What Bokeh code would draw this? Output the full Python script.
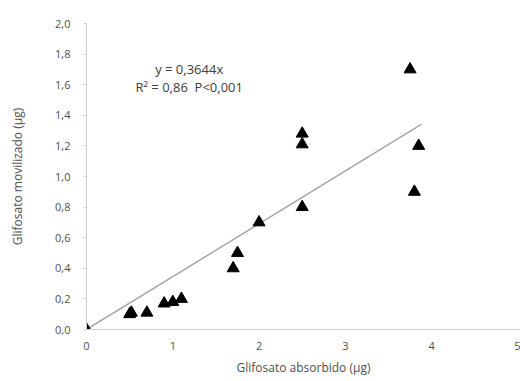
from bokeh.plotting import figure
from bokeh.models import Range1d, FixedTicker, Label
from bokeh.embed import file_html
from bokeh.resources import INLINE

# Data
absorbido = [0.0, 0.5, 0.52, 0.7, 0.9, 1.0, 1.1, 1.7, 1.75, 2.0, 2.5, 2.5, 2.5, 3.75, 3.8, 3.85]
movilizado = [0.0, 0.10, 0.11, 0.11, 0.17, 0.18, 0.20, 0.40, 0.50, 0.70, 0.80, 1.21, 1.28, 1.70, 0.90, 1.20]
trend_x = [0.0, 3.88]
trend_y = [0.0, 1.34]
x_ticks = [0, 1, 2, 3, 4, 5]
x_tick_labels = ["0", "1", "2", "3", "4", "5"]
y_ticks = [0.0, 0.2, 0.4, 0.6, 0.8, 1.0, 1.2, 1.4, 1.6, 1.8, 2.0]
y_tick_labels = ["0,0", "0,2", "0,4", "0,6", "0,8", "1,0", "1,2", "1,4", "1,6", "1,8", "2,0"]
eq_text = "y = 0,3644x"
r2_text = "R\u00b2 = 0,86\u00a0\u00a0P<0,001"

FONT = "Open Sans"
TXT = "#505050"

p = figure(width=520, height=381, output_backend="svg", toolbar_location=None,
           x_range=Range1d(0, 5.03), y_range=Range1d(0, 2.0),
           min_border_left=86, min_border_right=0, min_border_top=23, min_border_bottom=52)
p.outline_line_color = None
p.xgrid.visible = False
p.ygrid.visible = False

p.line(trend_x, trend_y, line_color="#a6a6a6", line_width=1.5)
p.scatter(absorbido, movilizado, marker="triangle", size=12, fill_color="black", line_color="black")

for ax in (p.xaxis[0], p.yaxis[0]):
    ax.axis_line_color = "#d0d0d0"
    ax.major_tick_line_color = "#d0d0d0"
    ax.minor_tick_line_color = None
    ax.major_label_text_font = FONT
    ax.major_label_text_font_size = "11px"
    ax.major_label_text_color = TXT
    ax.axis_label_text_font = FONT
    ax.axis_label_text_font_size = "12px"
    ax.axis_label_text_font_style = "normal"
    ax.axis_label_text_color = TXT

p.xaxis.ticker = FixedTicker(ticks=x_ticks)
p.xaxis.major_label_overrides = {t: l for t, l in zip(x_ticks, x_tick_labels)}
p.yaxis.ticker = FixedTicker(ticks=y_ticks)
p.yaxis.major_label_overrides = {t: l for t, l in zip(y_ticks, y_tick_labels)}

p.xaxis.major_tick_out = 0
p.xaxis.major_tick_in = 0
p.xaxis.major_label_standoff = 12
p.xaxis.axis_label = "Glifosato absorbido (\u00b5g)"
p.xaxis.axis_label_standoff = 6

p.yaxis.major_tick_out = 3
p.yaxis.major_tick_in = 0
p.yaxis.major_label_standoff = 13
p.yaxis.axis_label = "Glifosato movilizado (\u00b5g)"
p.yaxis.axis_label_standoff = 26

p.add_layout(Label(x=1.19, y=1.70, text=eq_text, text_align="center", text_baseline="middle",
                   text_font=FONT, text_font_size="13px", text_color="#404040"))
p.add_layout(Label(x=1.19, y=1.585, text=r2_text, text_align="center", text_baseline="middle",
                   text_font=FONT, text_font_size="13px", text_color="#404040"))

open("out.html", "w").write(file_html(p, INLINE))
